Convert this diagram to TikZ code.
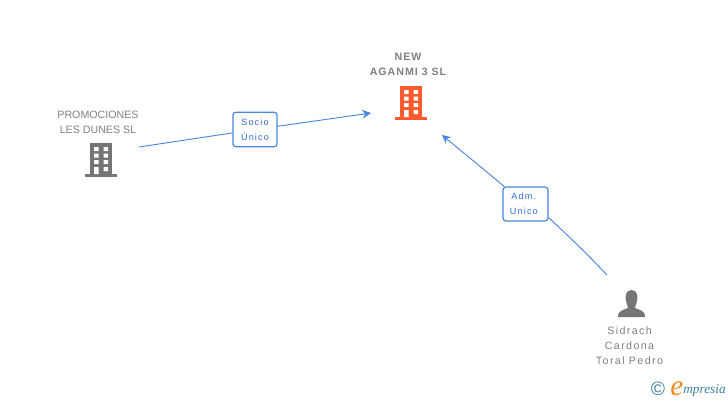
\documentclass[tikz,border=0pt]{standalone}
\usepackage{fontspec}
\setmainfont{Liberation Sans}
\newfontfamily\tagfont[LetterSpace=13]{Liberation Sans}
\newfontfamily\capsfont[LetterSpace=0]{Liberation Sans}
\newfontfamily\boldfont[LetterSpace=9]{Liberation Sans}
\newfontfamily\personfont[LetterSpace=13]{Liberation Sans}
\newfontfamily\logofont{Liberation Serif}
\usetikzlibrary{arrows.meta}
\definecolor{linkblue}{HTML}{4A86E0}
\definecolor{labelblue}{HTML}{2F6FD0}
\definecolor{icongrey}{HTML}{757575}
\definecolor{textgrey}{HTML}{808080}
\definecolor{hot}{HTML}{FF5A2E}
\definecolor{logoteal}{HTML}{3F7F9B}
\definecolor{logoorange}{HTML}{F08A1D}
\tikzset{
  x=0.75pt,y=-0.75pt,
  link/.style={draw=linkblue,line width=0.7pt},
  arrowlink/.style={link,-{Stealth[length=6.5pt,width=6.5pt]}},
  tagbox/.style={draw=linkblue,line width=0.9pt,fill=white,rounded corners=2.2pt,inner sep=0pt,
    text=labelblue,font=\tagfont\fontsize{6.8}{11.2}\selectfont,align=center},
  caption/.style={text=textgrey,font=\capsfont\fontsize{8}{11.2}\selectfont,align=center,inner sep=0pt},
  personcaption/.style={text=textgrey,font=\personfont\fontsize{8}{11.2}\selectfont,align=center,inner sep=0pt},
  boldcaption/.style={text=textgrey,font=\boldfont\bfseries\fontsize{8}{11.2}\selectfont,align=center,inner sep=0pt},
  pics/building/.style={code={
    \fill[#1] (-11,0) rectangle (11,31);
    \fill[#1] (-16,31) rectangle (16,34);
    \fill[white] (-7,4) rectangle (-2.5,8) (2.5,4) rectangle (7,8)
                 (-7,10.5) rectangle (-2.5,14.5) (2.5,10.5) rectangle (7,14.5)
                 (-7,17) rectangle (-2.5,21) (2.5,17) rectangle (7,21)
                 (-7,24) rectangle (-2.5,31) (2.5,24) rectangle (7,28);
  }},
}
\begin{document}
\begin{tikzpicture}
\useasboundingbox (0,0) rectangle (728,400);
\fill[white] (0,0) rectangle (728,400);

% icons
\pic at (411,86) {building=hot};
\pic at (101,143) {building=icongrey};
\fill[icongrey] (631.5,290) .. controls (625,290) and (625,298) .. (626,301)
  .. controls (627,305) and (628,306) .. (628,308)
  .. controls (624,310) and (618,310) .. (618,317)
  -- (645,317) .. controls (645,310) and (639,310) .. (635,308)
  .. controls (635,306) and (636,305) .. (637,301)
  .. controls (638,298) and (638,290) .. (631.5,290) -- cycle;

% captions
\node[boldcaption] (newco) at (408,64.5) {NEW\\AGANMI 3 SL};
\node[caption] (promo) at (98,122) {PROMOCIONES\\LES DUNES SL};
\node[personcaption] (sidrach) at (629.5,345.5) {Sidrach\\Cardona\\Toral Pedro};

% tags
\node[tagbox,minimum width=33pt,minimum height=26pt] (socio) at (255,129.5) {Socio\\Único};
\node[tagbox,minimum width=33.7pt,minimum height=25.5pt] (adm) at (525.5,204) {Adm.\hspace*{2.5pt}\\Unico\hspace*{2.5pt}};

% connector ends
\coordinate (promoend) at (139,147);
\coordinate (newleft) at (371,113);
\coordinate (newbottom) at (442,135);
\coordinate (sidrachend) at (607,275);

\draw[link] (promoend) -- (socio);
\draw[arrowlink] (socio) -- (newleft);
\draw[link] (sidrachend) .. controls (585,252) .. (adm.-30);
\draw[arrowlink] (adm) -- (newbottom);

% logo
\node[text=logoteal,font=\fontsize{14.5}{15}\selectfont,inner sep=0pt] (copy) at (658,389) {©};
\node[text=logoorange,font=\logofont\itshape\fontsize{22}{22}\selectfont,inner sep=0pt,anchor=base] (logoe) at (677,395) {e};
\node[text=logoteal,font=\logofont\itshape\fontsize{10}{10}\selectfont,inner sep=0pt,anchor=base west] (logotext) at (683,393) {mpresia};
\end{tikzpicture}
\end{document}
